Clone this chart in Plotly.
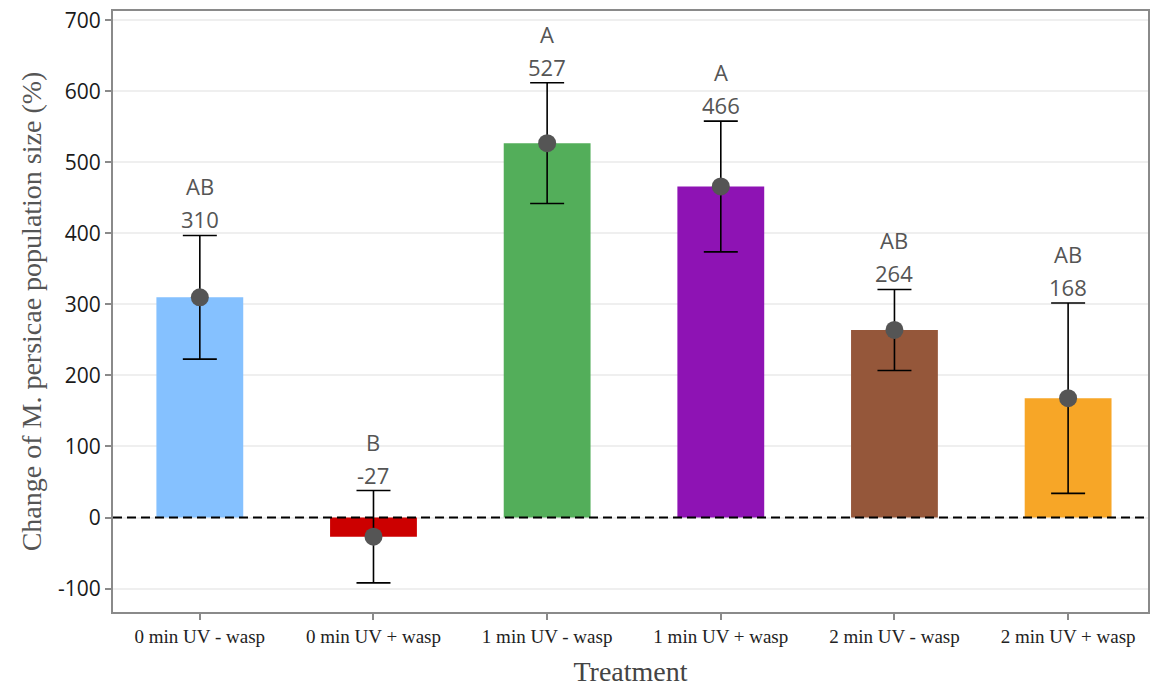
import plotly.graph_objects as go

# Treatment groups and their summary statistics
treatments = ["0 min UV - wasp", "0 min UV + wasp", "1 min UV - wasp",
              "1 min UV + wasp", "2 min UV - wasp", "2 min UV + wasp"]
mean_change = [310, -27, 527, 466, 264, 168]
std_error = [87, 65, 85, 92, 57, 134]
letters = ["AB", "B", "A", "A", "AB", "AB"]
bar_colors = ["#85C1FF", "#CC0000", "#53AE5A", "#8E13B4", "#95573A", "#F7A627"]

y_ticks = [-100, 0, 100, 200, 300, 400, 500, 600, 700]
y_tick_text = ["-100", "0", "100", "200", "300", "400", "500", "600", "700"]

label_font = dict(family="Open Sans, Noto Sans, sans-serif", size=22, color="#555555")
serif = "Liberation Serif, Times New Roman, serif"

fig = go.Figure()

fig.add_trace(go.Bar(
    x=treatments, y=mean_change,
    marker=dict(color=bar_colors, line=dict(width=0)),
    width=0.5, showlegend=False, hoverinfo="skip",
))

fig.add_trace(go.Scatter(
    x=treatments, y=mean_change, mode="markers",
    marker=dict(size=18, color="#555555"),
    error_y=dict(type="data", array=std_error, visible=True,
                 color="#000000", thickness=1.6, width=17),
    showlegend=False,
))

# mean value and significance letter above each error bar
for t, m, e, l in zip(treatments, mean_change, std_error, letters):
    top = m + e
    fig.add_annotation(x=t, y=top, text=str(m), showarrow=False,
                       yanchor="middle", yshift=16, font=label_font)
    fig.add_annotation(x=t, y=top, text=l, showarrow=False,
                       yanchor="middle", yshift=49, font=label_font)

# dashed reference line at zero change
fig.add_shape(type="line", xref="paper", x0=0, x1=1, yref="y", y0=0, y1=0,
              line=dict(color="#000000", width=2, dash="9px,5px"), layer="above")

fig.update_layout(
    width=1152, height=688,
    margin=dict(l=113, r=2, t=11, b=76),
    paper_bgcolor="white", plot_bgcolor="white",
    bargap=0.5,
)

fig.update_xaxes(
    range=[-0.5, 5.46],
    showline=True, linecolor="#8a8a8a", linewidth=2, mirror=True,
    ticks="outside", ticklen=6, tickcolor="#8a8a8a", tickwidth=1.5,
    tickfont=dict(family=serif, size=19, color="#222222"),
    title=dict(text="Treatment", font=dict(family=serif, size=28, color="#444444"), standoff=16),
    showgrid=False,
)

fig.update_yaxes(
    range=[-133, 713],
    tickvals=y_ticks, ticktext=y_tick_text,
    showline=True, linecolor="#8a8a8a", linewidth=2, mirror=True,
    ticks="outside", ticklen=6, tickcolor="#8a8a8a", tickwidth=1.5,
    tickfont=dict(family="Open Sans, Noto Sans, sans-serif", size=21, color="#1a1a1a", weight=500),
    showgrid=True, gridcolor="#efefef", gridwidth=1.5,
    zeroline=False,
    title=dict(text="Change of M. persicae population size (%)",
               font=dict(family=serif, size=28, color="#555555"), standoff=8),
)

fig.write_html("out.html")
